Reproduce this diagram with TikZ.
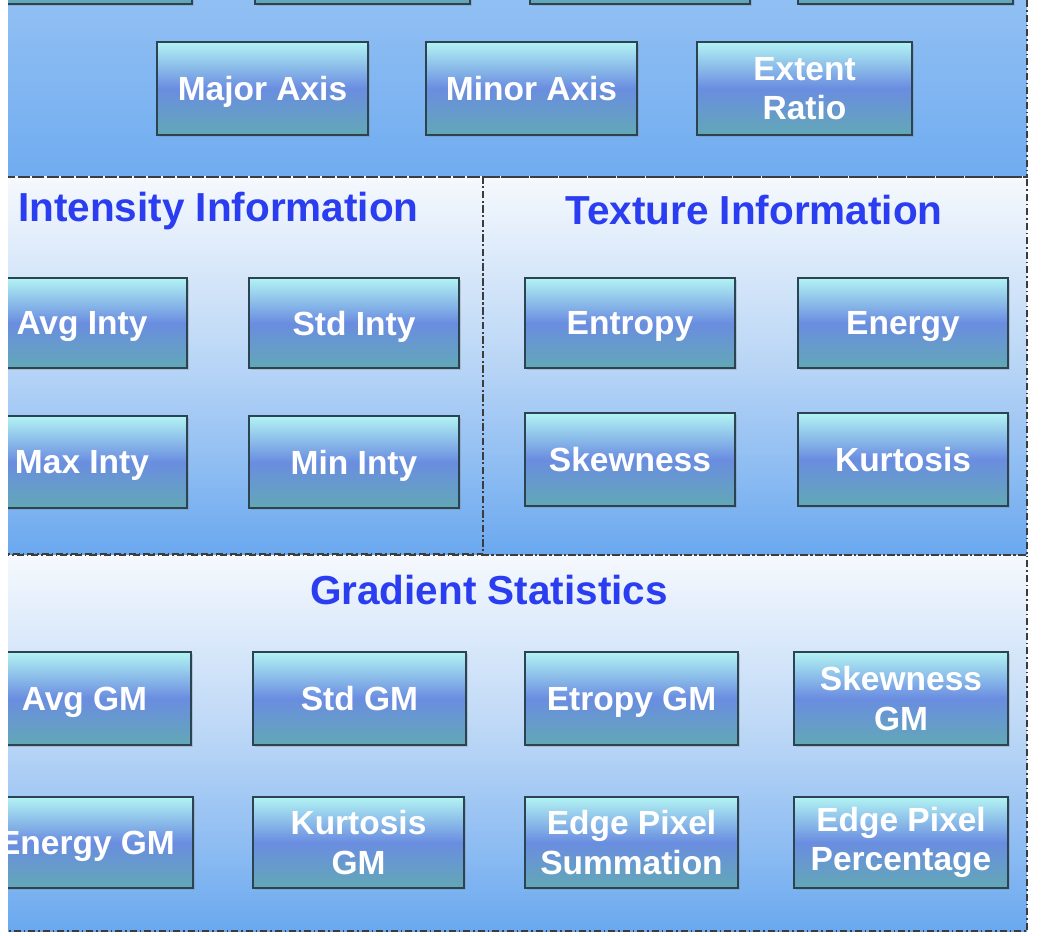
\documentclass[tikz,border=0pt]{standalone}
\usepackage{fontspec}
\setmainfont{Liberation Sans}
\usetikzlibrary{shadows}
\definecolor{boxtop}{HTML}{B2F3F3}
\definecolor{boxmid}{HTML}{6A8DE0}
\definecolor{boxbot}{HTML}{62A8B6}
\definecolor{boxline}{HTML}{2C4452}
\definecolor{titleblue}{HTML}{2A3DF0}
\definecolor{pantop}{HTML}{F6F9FD}
\definecolor{panmid}{HTML}{B8D5F6}
\definecolor{panbot}{HTML}{6AA8EF}
\definecolor{toptop}{HTML}{9CC6F4}
\definecolor{topbot}{HTML}{70ACF0}
\definecolor{dashcol}{HTML}{3C3C3C}
\begin{document}
\begin{tikzpicture}[x=1pt,y=-1pt,
  feat/.style={draw=boxline, line width=1.5pt, top color=boxtop, bottom color=boxbot, middle color=boxmid,
    minimum width=211pt, minimum height=92pt, inner sep=0pt, align=center, text=white,
    font=\fontsize{33.5}{39.5}\selectfont\bfseries,
    drop shadow={opacity=0.3, shadow xshift=1.5pt, shadow yshift=-2pt}},
  one/.style={feat, text depth=0pt},
  ttl/.style={text=titleblue, font=\fontsize{40.5}{44}\selectfont\bfseries, inner sep=0pt, text depth=0pt},
  panel/.style={top color=pantop, bottom color=panbot, middle color=panmid},
  toppanel/.style={top color=toptop, bottom color=topbot},
  border/.style={draw=dashcol, line width=1.5pt, dash pattern=on 7pt off 3pt on 1.5pt off 3pt}
]
\useasboundingbox (0,0) rectangle (1047,936);
\fill[white] (0,0) rectangle (1047,936);
\begin{scope}
\clip (8,-2) rectangle (1029,932);
% panels
\fill[toppanel] (-60,-60) rectangle (1027,177);
\fill[panel] (-60,177) rectangle (483,554);
\fill[panel] (483,177) rectangle (1027,555);
\fill[panel] (-60,555) rectangle (1027,931);
\draw[border] (-60,-60) rectangle (1027,177);
\draw[border] (-60,177) rectangle (483,554);
\draw[border] (483,177) rectangle (1027,555);
\draw[border] (-60,555) rectangle (1027,931);
% top partial row
\node[feat, minimum width=222pt] (t1) at (81,-42) {};
\node[feat, minimum width=215pt] (t2) at (362.5,-42) {};
\node[feat, minimum width=220pt] (t3) at (640,-42) {};
\node[feat, minimum width=215pt] (t4) at (905.5,-42) {};
% shape row
\node[one, minimum height=93pt] (major) at (262.5,88.5) {Major Axis};
\node[one, minimum height=93pt] (minor) at (531.5,88.5) {Minor Axis};
\node[feat, minimum width=215pt, minimum height=93pt] (extent) at (804.5,88.5) {Extent\\Ratio};
% intensity
\node[ttl, anchor=west] (intt) at (18,207) {Intensity Information};
\node[one, minimum width=210pt, minimum height=90pt] (avgi) at (82,323) {Avg Inty};
\node[one, minimum width=210pt, minimum height=90pt] (stdi) at (354,323) {Std Inty};
\node[one, minimum width=210pt] (maxi) at (82,462) {Max Inty};
\node[one, minimum width=210pt] (mini) at (354,462) {Min Inty};
% texture
\node[ttl] (text) at (754,210) {Texture Information};
\node[one, minimum width=210pt, minimum height=90pt] (entropy) at (630,323) {Entropy};
\node[one, minimum width=210pt, minimum height=90pt] (energy) at (903,323) {Energy};
\node[one, minimum width=210pt, minimum height=93pt] (skew) at (630,459.5) {Skewness};
\node[one, minimum width=210pt, minimum height=93pt] (kurt) at (903,459.5) {Kurtosis};
% gradient
\node[ttl] (gradt) at (489,590) {Gradient Statistics};
\node[one, minimum width=213pt, minimum height=93pt] (avggm) at (84.5,698.5) {Avg GM};
\node[one, minimum width=213pt, minimum height=93pt] (stdgm) at (359.5,698.5) {Std GM};
\node[one, minimum width=213pt, minimum height=93pt] (entgm) at (631.5,698.5) {Etropy GM};
\node[feat, minimum width=214pt, minimum height=93pt] (skewgm) at (901,698.5) {Skewness\\GM};
\node[one, minimum width=213pt, minimum height=91pt] (enggm) at (86.5,842.5) {Energy GM};
\node[feat, minimum width=211pt, minimum height=91pt] (kurtgm) at (358.5,842.5) {Kurtosis\\GM};
\node[feat, minimum width=213pt, minimum height=91pt] (eps) at (631.5,842.5) {Edge Pixel\\Summation};
\node[feat, minimum width=214pt, minimum height=91pt] (epp) at (901,842.5) {Edge Pixel\\Percentage};
\end{scope}
\end{tikzpicture}
\end{document}
